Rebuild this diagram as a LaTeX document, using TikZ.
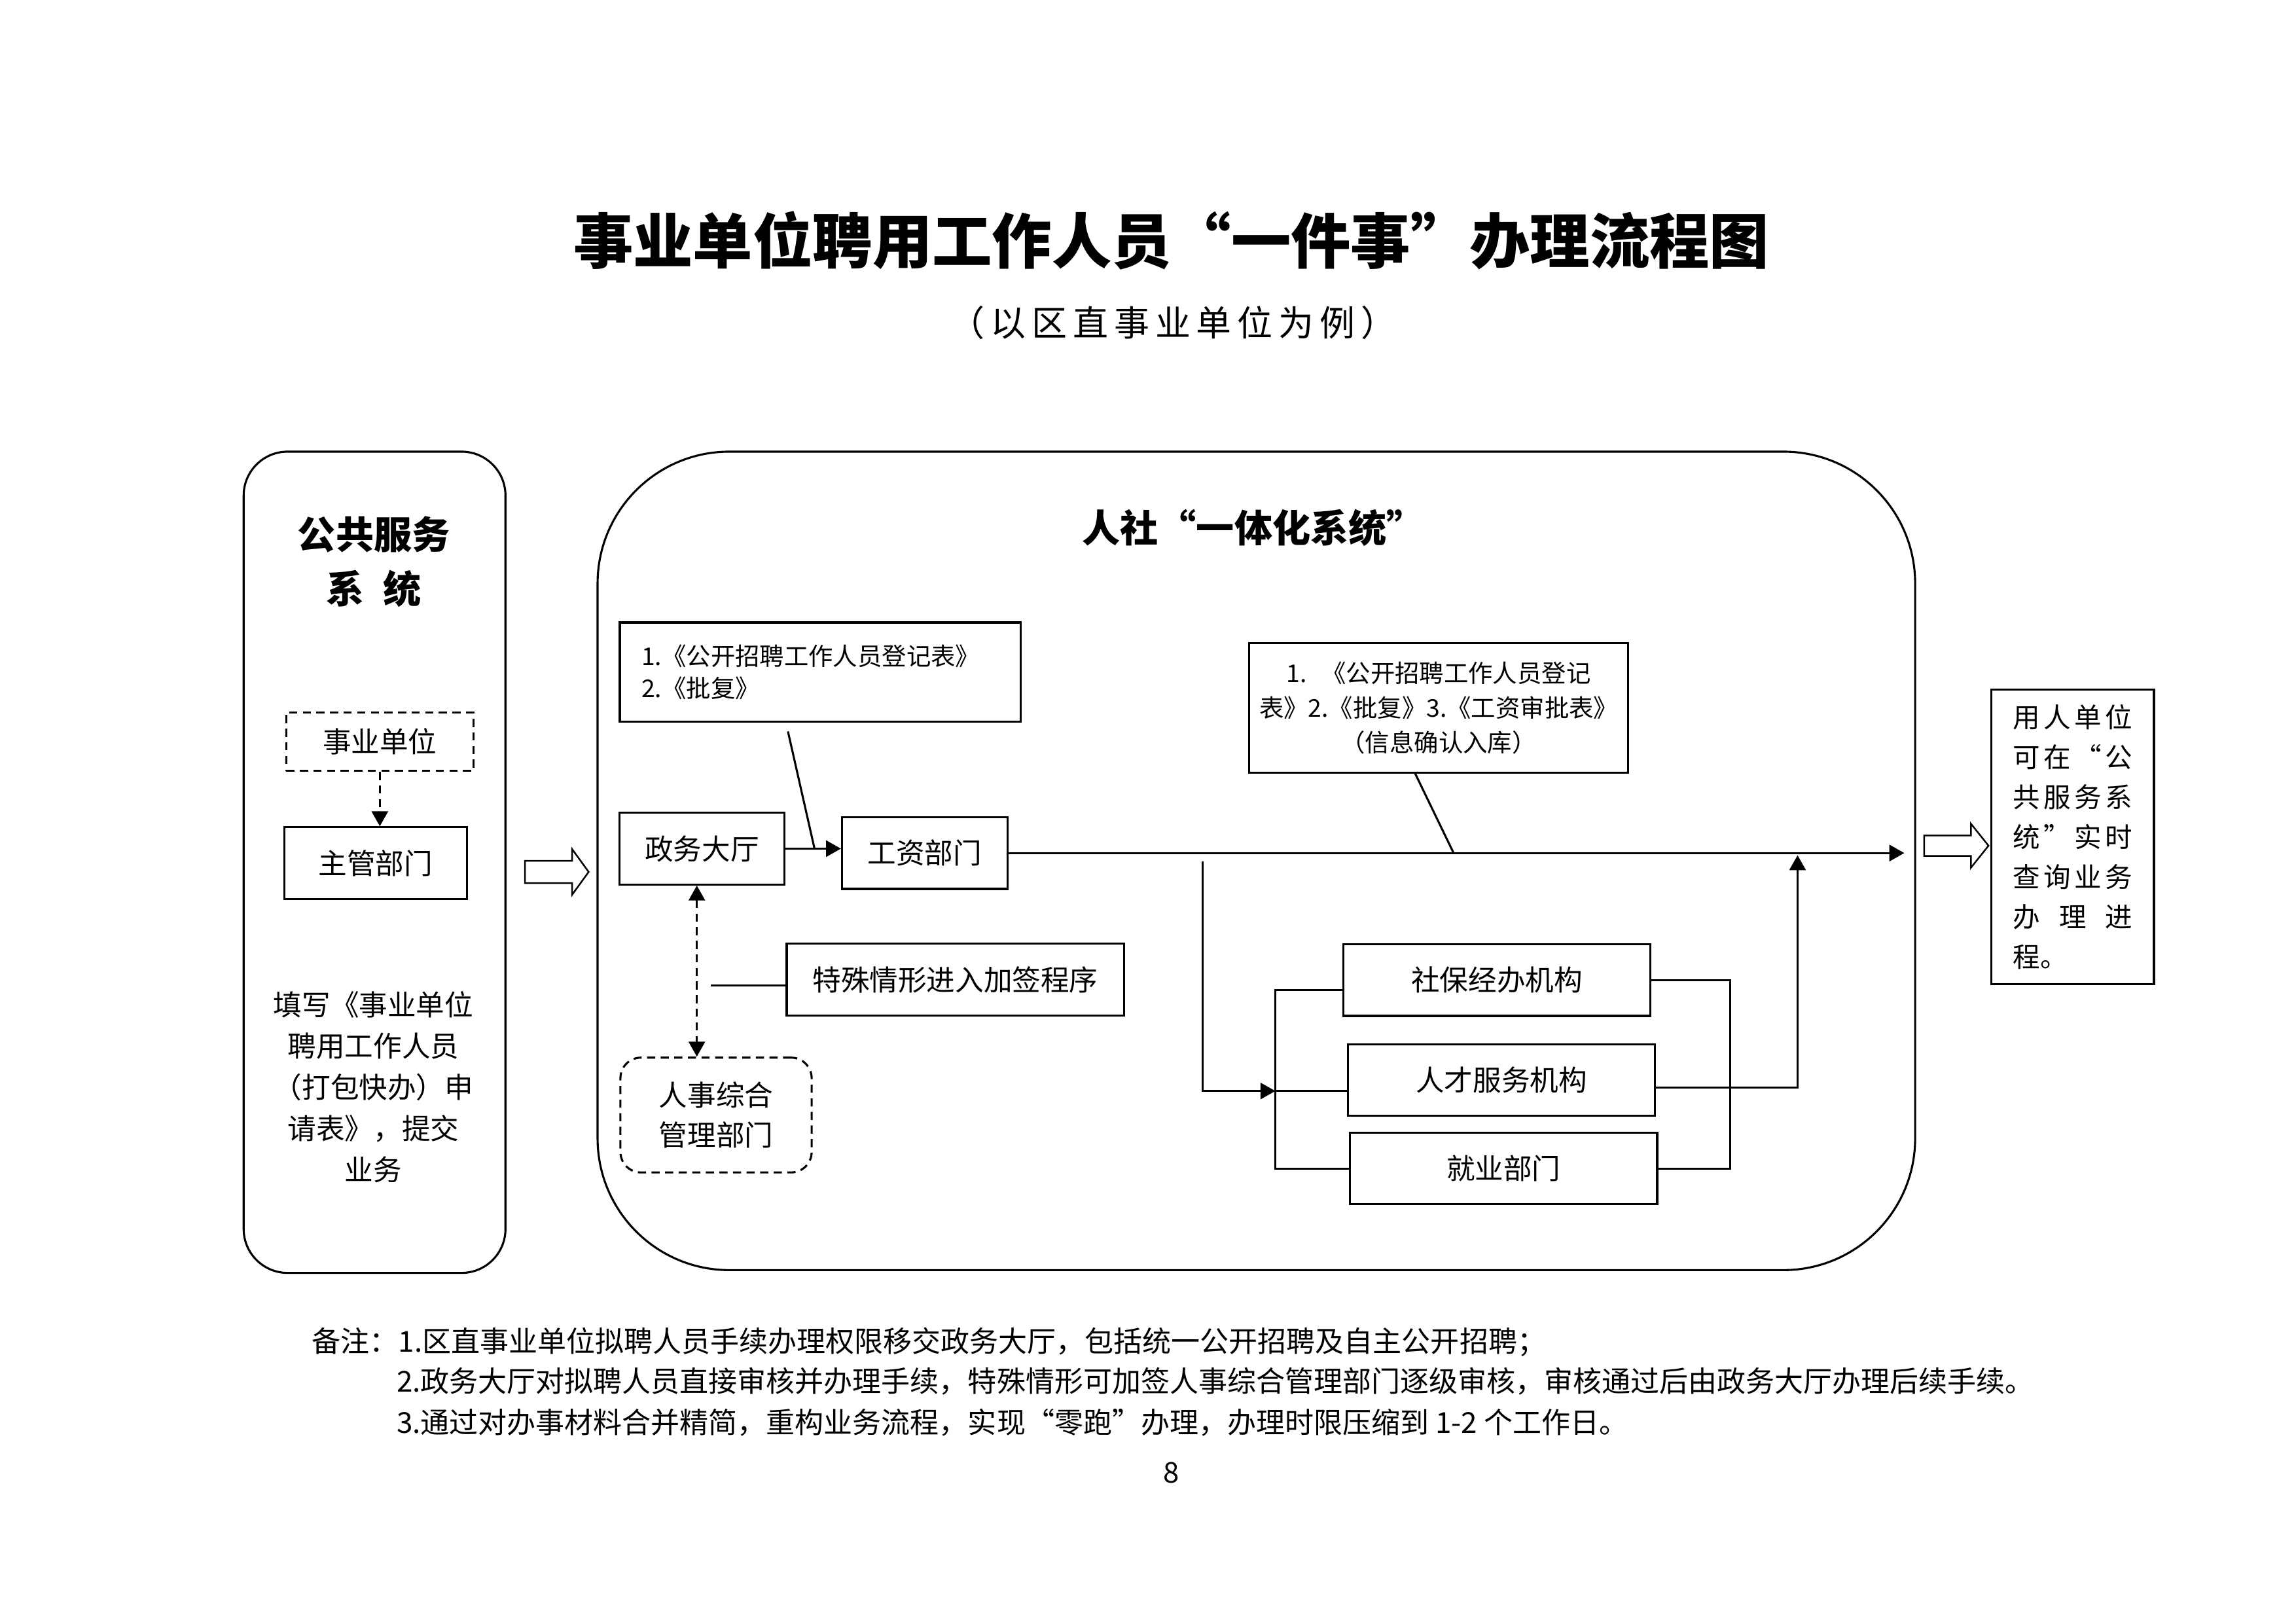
\documentclass[tikz,border=0pt]{standalone}
\usepackage{fontspec}
\setmainfont{Noto Sans CJK SC}
\usepackage{tikz}
\usetikzlibrary{arrows.meta}

\newlength{\gridu}
\setlength{\gridu}{0.018941cm}
\newcommand{\qrow}[1]{\makebox[81.4\gridu][s]{#1}}

\tikzset{
  procbox/.style={draw, line width=0.75pt, inner sep=0pt, align=center, font=\fontsize{10.5}{15}\selectfont},
  dashbox/.style={procbox, dash pattern=on 3pt off 2pt},
  panel/.style={draw, line width=0.75pt, inner sep=0pt},
  conn/.style={line width=0.75pt},
  dashline/.style={conn, dash pattern=on 3pt off 2pt},
  bigarrow/.style={draw, line width=0.6pt, fill=white},
  notetext/.style={anchor=west, inner sep=0pt, font=\fontsize{10.6}{13}\selectfont},
}

\begin{document}
\begin{tikzpicture}[x=0.018941cm, y=-0.018941cm, >={Triangle[length=5.5pt,width=6pt]}]
        \fill[white] (0,0) rectangle (1568,1108.6);

        % 标题
        \node[font=\bfseries\fontsize{22}{26}\selectfont] (title) at (800,164.3) {事业单位聘用工作人员“一件事”办理流程图};
        \node[font=\fontsize{13}{16}\selectfont] (subtitle) at (801,220.5) {\makebox[305\gridu][s]{（\hfill 以\hfill 区\hfill 直\hfill 事\hfill 业\hfill 单\hfill 位\hfill 为\hfill 例\hfill ）}};

        % 绘制两个系统框
        \node[panel, rounded corners=30\gridu, minimum width=178.8\gridu, minimum height=560.8\gridu] (pub) at (255.8,588.8) {};
        \node[panel, rounded corners=90\gridu, minimum width=899.8\gridu, minimum height=558.9\gridu] (hrss) at (858,587.85) {};
        \node[font=\bfseries\fontsize{14}{20}\selectfont, align=center] (pubtitle) at (255.3,383.5) {公共服务\\系\hspace{0.5em}统};
        \node[font=\bfseries\fontsize{14}{18}\selectfont] (hrsstitle) at (856,360.6) {人社“一体化系统”};

        % 公共服务系统内部
        \node[dashbox, minimum width=127.8\gridu, minimum height=39.7\gridu] (unit) at (259.4,506.5) {事业单位};
        \node[procbox, minimum width=124.9\gridu, minimum height=49\gridu] (dept) at (256.5,589.4) {主管部门};
        \node[align=center, font=\fontsize{10.5}{15.2}\selectfont] (apply) at (255,742.3) {填写《事业单位\\聘用工作人员\\（打包快办）申\\请表》，提交\\业务};
        \draw[dashline, ->] (unit.south) -- (unit.south |- dept.north);

        % 空心箭头
        \draw[bigarrow] (358.5,587.8) -- (390.7,587.8) -- (390.7,579.8) -- (402,595.4) -- (390.7,611) -- (390.7,603) -- (358.5,603) -- cycle;
        \draw[bigarrow] (1314,570.5) -- (1346,570.5) -- (1346,562.5) -- (1358,577.5) -- (1346,592.5) -- (1346,584.5) -- (1314,584.5) -- cycle;

        % 人社一体化系统内部
        \node[procbox, align=left, text width=244\gridu, inner xsep=14.8\gridu, minimum height=67.7\gridu, font=\fontsize{9}{11.8}\selectfont] (docA) at (560.1,458.9) {1.《公开招聘工作人员登记表》\\2.《批复》};
        \node[procbox, minimum width=258.6\gridu, minimum height=88.6\gridu, font=\fontsize{9}{12.7}\selectfont] (docB) at (982.5,483.3) {1.\hspace{0.6em}《公开招聘工作人员登记\\表》2.《批复》3.《工资审批表》\\（信息确认入库）};
        \node[procbox, minimum width=112.3\gridu, minimum height=49\gridu] (hall) at (479.4,579.5) {政务大厅};
        \node[procbox, minimum width=113\gridu, minimum height=49\gridu] (wage) at (631.5,582.5) {工资部门};
        \node[procbox, minimum width=230.3\gridu, minimum height=49.3\gridu] (special) at (652.4,669) {特殊情形进入加签程序};
        \node[dashbox, rounded corners=14\gridu, minimum width=130.6\gridu, minimum height=78.4\gridu, font=\fontsize{10.5}{14.5}\selectfont] (hr) at (489,761.4) {人事综合\\管理部门};
        \node[procbox, minimum width=209.8\gridu, minimum height=49\gridu] (ss) at (1022.3,669.2) {社保经办机构};
        \node[procbox, minimum width=209.9\gridu, minimum height=48.8\gridu] (talent) at (1025.4,737.6) {人才服务机构};
        \node[procbox, minimum width=209.9\gridu, minimum height=49\gridu] (emp) at (1026.8,797.9) {就业部门};

        % 用人单位查询
        \node[procbox, minimum width=111\gridu, minimum height=201\gridu, font=\fontsize{10}{14.7}\selectfont] (query) at (1415.5,571.5) {\qrow{用\hfill 人\hfill 单\hfill 位}\\\qrow{可\hfill 在\hfill “\hfill 公}\\\qrow{共\hfill 服\hfill 务\hfill 系}\\\qrow{统\hfill ”\hfill 实\hfill 时}\\\qrow{查\hfill 询\hfill 业\hfill 务}\\\qrow{办\hfill 理\hfill 进}\\\makebox[81.4\gridu][l]{程。}};

        % 连线
        \coordinate (out) at (1300.5,581);
        \coordinate (split) at (821.5,588);
        \coordinate (bl) at (871,745);
        \coordinate (join) at (1227.6,584);
        \draw[conn, ->] (hall.east) -- (hall.east -| wage.west);
        \draw[conn] ([xshift=-22\gridu, yshift=-6\gridu]docA.south) -- ([xshift=20\gridu]hall.east);
        \draw[conn, ->] (wage.east) -- (wage.east -| out);
        \draw[conn] ([xshift=-16\gridu]docB.south) -- ([xshift=304\gridu]wage.east);
        \draw[conn] ([yshift=-4\gridu]special.west) -- ++(-51\gridu,0);
        \draw[dashline, <->] ([xshift=-3.5\gridu]hall.south) -- ([xshift=-3.5\gridu]hall.south |- hr.north);

        % 分送三个机构
        \draw[conn, ->] (split) |- (bl);
        \draw[conn] ([yshift=-7\gridu]ss.west) -| (bl) |- (emp.west);
        \draw[conn] (bl) -- (bl -| talent.west);
        \draw[conn] (ss.east) -- ++(53.5\gridu,0) |- (emp.east);
        \draw[conn, ->] ([yshift=-5\gridu]talent.east) -| (join);

        % 备注
        \node[notetext] (note1) at (212.7,916.4) {备注：1.区直事业单位拟聘人员手续办理权限移交政务大厅，包括统一公开招聘及自主公开招聘；};
        \node[notetext] (note2) at (270.5,943.2) {2.政务大厅对拟聘人员直接审核并办理手续，特殊情形可加签人事综合管理部门逐级审核，审核通过后由政务大厅办理后续手续。};
        \node[notetext] (note3) at (270.5,971.4) {3.通过对办事材料合并精简，重构业务流程，实现“零跑”办理，办理时限压缩到 1-2 个工作日。};
        \node[font=\fontsize{10.5}{13}\selectfont] (page) at (800,1005.8) {8};
    \end{tikzpicture}
\end{document}
